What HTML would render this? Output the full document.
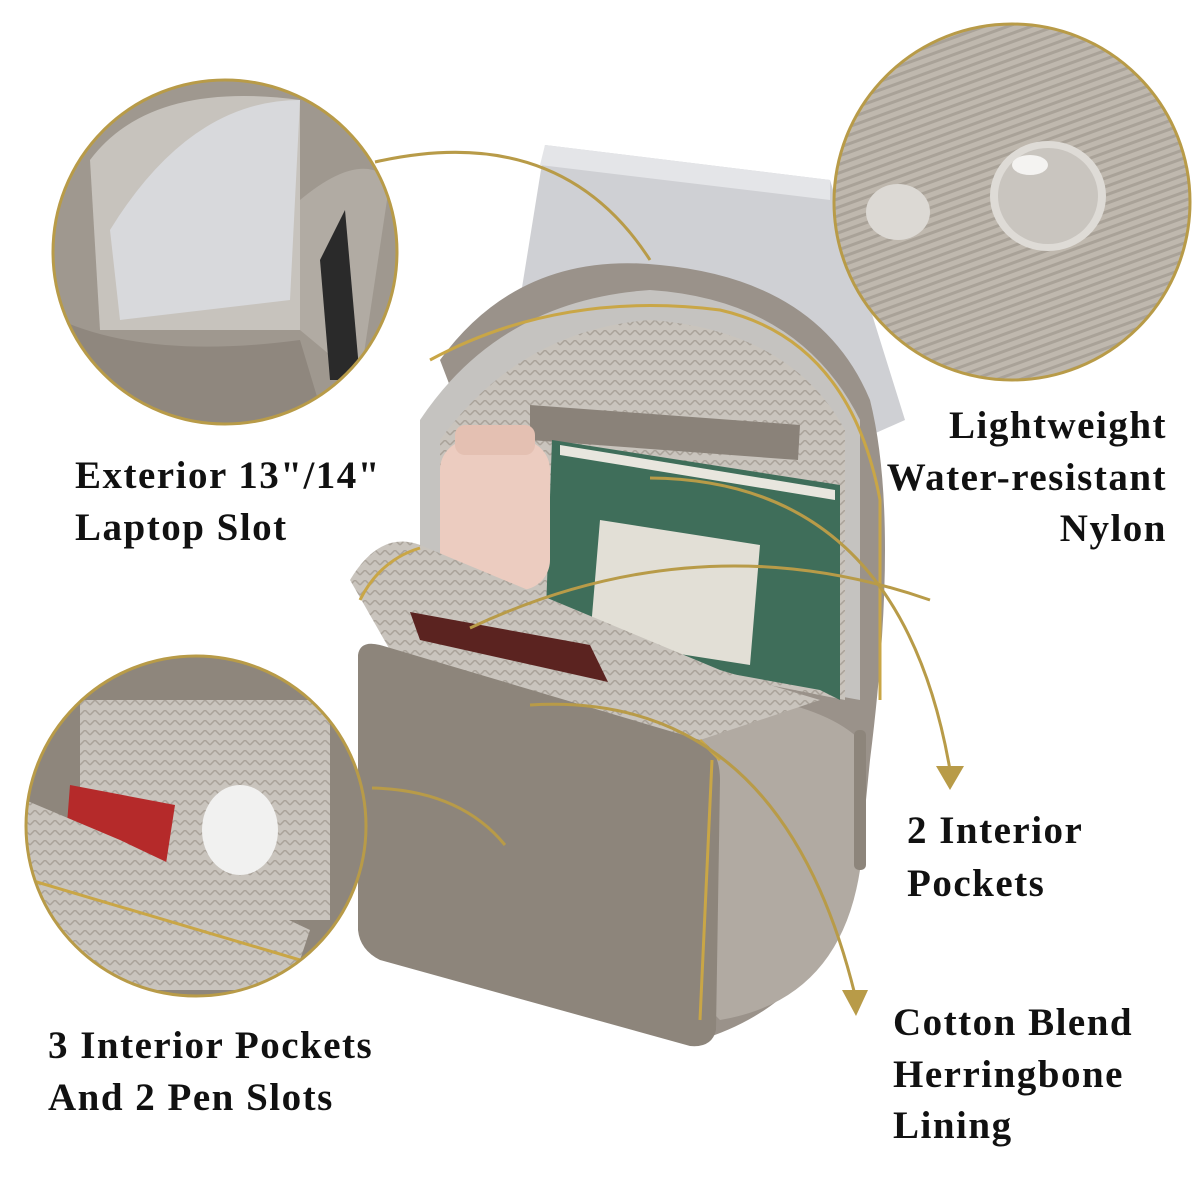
<!DOCTYPE html>
<html><head><meta charset="utf-8"><style>
html,body{margin:0;padding:0;background:#fff}
svg{display:block}
text{font-family:"Liberation Serif",serif;font-weight:bold;font-size:39px;fill:#111;letter-spacing:1.5px}
</style></head><body>
<svg width="1200" height="1200" viewBox="0 0 1200 1200" xmlns="http://www.w3.org/2000/svg">
<defs>
<pattern id="twill" width="8" height="8" patternUnits="userSpaceOnUse" patternTransform="rotate(70)">
<rect width="8" height="8" fill="#bfb8ae"/><rect width="3" height="8" fill="#a9a298"/></pattern>
<pattern id="herr" width="10" height="10" patternUnits="userSpaceOnUse">
<rect width="10" height="10" fill="#c9c4bd"/><path d="M0 5 L5 0 L10 5" stroke="#aaa39a" fill="none" stroke-width="1.5"/></pattern>
<clipPath id="c1"><circle cx="225" cy="252" r="172"/></clipPath>
<clipPath id="c2"><circle cx="1012" cy="202" r="178"/></clipPath>
<clipPath id="c3"><circle cx="196" cy="826" r="170"/></clipPath>
</defs>
<rect width="1200" height="1200" fill="#fff"/>

<path d="M545 145 L830 180 L905 420 L860 440 L520 300 Z" fill="#cfd0d4"/>
<path d="M545 145 L830 180 L830 200 L540 165 Z" fill="#e4e5e8"/>
<path d="M440 360 Q520 250 660 265 Q820 280 870 400 Q900 520 870 760 L860 860 Q830 1000 700 1040 L700 1040 Z" fill="#9a928a"/>
<path d="M420 420 Q500 300 650 290 Q800 300 860 420 L860 700 L420 620 Z" fill="#c5c3c0"/>
<path d="M440 440 Q520 330 650 320 Q790 330 845 430 L845 700 L440 620 Z" fill="url(#herr)"/>
<path d="M530 405 L800 425 L798 460 L530 440 Z" fill="#8a8279"/>
<path d="M552 440 L840 485 L840 700 L820 690 L545 640 Z" fill="#3f6e5a"/>
<path d="M560 445 L835 490 L835 500 L560 455 Z" fill="#e8e6de"/>
<path d="M600 520 L760 545 L750 665 L590 640 Z" fill="#e2dfd6"/>
<rect x="440" y="440" width="110" height="150" rx="30" fill="#ecccc0"/>
<rect x="455" y="425" width="80" height="30" rx="10" fill="#e4c0b2"/>
<path d="M700 690 Q820 700 860 740 L860 870 Q840 1000 720 1020 L690 990 Z" fill="#b1aaa2"/>
<path d="M350 580 Q380 530 420 545 L720 670 L820 700 L700 740 L430 720 Z" fill="url(#herr)"/>
<path d="M410 612 L590 645 L608 682 L420 640 Z" fill="#5b2320"/>
<path d="M358 655 Q360 640 380 645 L700 740 Q720 750 720 780 L716 1030 Q712 1048 690 1046 L380 960 Q360 950 358 930 Z" fill="#8d857b"/>
<path d="M420 548 Q380 560 360 600 M700 740 L720 760" stroke="#c9a646" stroke-width="3" fill="none"/>
<path d="M430 360 Q560 290 720 310 Q850 340 880 500 L880 700" stroke="#c9a646" stroke-width="3" fill="none"/>
<path d="M712 760 L700 1020" stroke="#c9a646" stroke-width="3"/>
<rect x="854" y="730" width="12" height="140" rx="5" fill="#8d857b"/>

<g clip-path="url(#c1)">
<rect x="40" y="70" width="380" height="360" fill="#9f988f"/>
<path d="M90 160 Q150 80 300 100 L300 330 L100 330 Z" fill="#c7c3bd"/>
<path d="M110 230 Q190 100 300 100 L290 300 L120 320 Z" fill="#d8d9dc"/>
<path d="M300 200 Q360 150 390 180 L360 380 L300 330 Z" fill="#b1aba3"/>
<path d="M320 260 L345 210 L360 380 L330 380 Z" fill="#2a2a2a"/>
<path d="M60 320 Q150 360 300 340 L330 440 L40 440 Z" fill="#8f877e"/>
</g>
<circle cx="225" cy="252" r="172" fill="none" stroke="#b89b48" stroke-width="3"/>

<g clip-path="url(#c2)">
<rect x="830" y="20" width="370" height="370" fill="url(#twill)"/>
<ellipse cx="1048" cy="196" rx="58" ry="55" fill="#dedbd6"/>
<ellipse cx="1048" cy="196" rx="50" ry="48" fill="#c9c5bf"/>
<ellipse cx="898" cy="212" rx="32" ry="28" fill="#dcd9d4"/>
<ellipse cx="1030" cy="165" rx="18" ry="10" fill="#f4f3f1"/>
</g>
<circle cx="1012" cy="202" r="178" fill="none" stroke="#b89b48" stroke-width="3"/>

<g clip-path="url(#c3)">
<rect x="20" y="650" width="360" height="360" fill="#8e867c"/>
<rect x="80" y="700" width="250" height="220" fill="url(#herr)"/>
<ellipse cx="240" cy="830" rx="38" ry="45" fill="#f1f1f0"/>
<path d="M70 785 L175 805 L165 870 L65 850 Z" fill="#b52a2a"/>
<path d="M25 800 L120 840 L310 930 L290 990 L20 990 Z" fill="url(#herr)"/>
<path d="M30 880 L300 960" stroke="#c9a646" stroke-width="3"/>
</g>
<circle cx="196" cy="826" r="170" fill="none" stroke="#b89b48" stroke-width="3"/>

<g fill="none" stroke="#b89b48" stroke-width="3">
<path d="M375 162 Q560 120 650 260"/>
<path d="M650 478 Q900 480 950 770"/>
<path d="M470 628 Q700 520 930 600"/>
<path d="M530 705 Q780 690 855 995"/>
<path d="M372 788 Q460 790 505 845"/>
</g>
<path d="M936 766 L964 766 L950 790 Z" fill="#b89b48"/>
<path d="M842 990 L868 990 L856 1016 Z" fill="#b89b48"/>

<text x="75" y="488">Exterior 13"/14"</text>
<text x="75" y="540">Laptop Slot</text>
<text x="1167" y="438" text-anchor="end">Lightweight</text>
<text x="1167" y="490" text-anchor="end">Water-resistant</text>
<text x="1167" y="541" text-anchor="end">Nylon</text>
<text x="907" y="843">2 Interior</text>
<text x="907" y="896">Pockets</text>
<text x="893" y="1035">Cotton Blend</text>
<text x="893" y="1087">Herringbone</text>
<text x="893" y="1138">Lining</text>
<text x="48" y="1058">3 Interior Pockets</text>
<text x="48" y="1110">And 2 Pen Slots</text>
</svg>
</body></html>
